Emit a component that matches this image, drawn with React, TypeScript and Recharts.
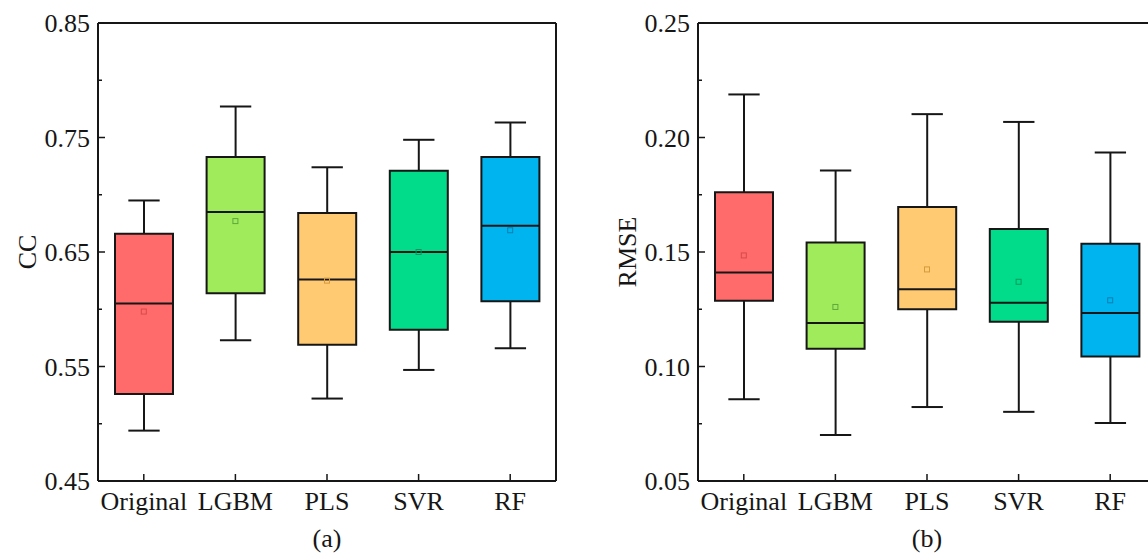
import { ComposedChart, Bar, Scatter, XAxis, YAxis, Cell, ReferenceLine } from 'recharts'

const models = ['Original', 'LGBM', 'PLS', 'SVR', 'RF']
const boxColors = ['#ff6b6b', '#a0eb5b', '#ffca72', '#00dc8a', '#00b4ef']
const meanColors = ['#d94a4a', '#5fa83a', '#d69a3a', '#089a5e', '#0a7fb0']

// CC panel (a)
const ccMin = [0.494, 0.573, 0.522, 0.547, 0.566]
const ccQ1 = [0.526, 0.614, 0.569, 0.582, 0.607]
const ccMedian = [0.605, 0.685, 0.626, 0.65, 0.673]
const ccMean = [0.598, 0.677, 0.625, 0.65, 0.669]
const ccQ3 = [0.666, 0.733, 0.684, 0.721, 0.733]
const ccMax = [0.695, 0.777, 0.724, 0.748, 0.763]
const ccTicks = [0.45, 0.5, 0.55, 0.6, 0.65, 0.7, 0.75, 0.8, 0.85]

// RMSE panel (b)
const rmseMin = [0.0857, 0.0701, 0.0823, 0.0802, 0.0753]
const rmseQ1 = [0.1287, 0.1078, 0.125, 0.1195, 0.1044]
const rmseMedian = [0.141, 0.119, 0.1337, 0.1278, 0.1234]
const rmseMean = [0.1485, 0.126, 0.1424, 0.137, 0.1289]
const rmseQ3 = [0.1761, 0.1542, 0.1696, 0.16, 0.1536]
const rmseMax = [0.2188, 0.1856, 0.2102, 0.2068, 0.1934]
const rmseTicks = [0.05, 0.075, 0.1, 0.125, 0.15, 0.175, 0.2, 0.225, 0.25]

const FONT = "'Liberation Serif', 'Times New Roman', serif"
const FS = 26
const INK = '#161616'

function rows(min: number[], q1: number[], med: number[], mean: number[], q3: number[], max: number[]) {
  return models.map((name, i) => ({
    pos: i + 1, name, min: min[i], q1: q1[i], median: med[i], mean: mean[i], q3: q3[i], max: max[i],
    meanColor: meanColors[i],
  }))
}

function span(p: any) {
  const top = Math.min(p.y, p.y + p.height)
  const bottom = Math.max(p.y, p.y + p.height)
  return { cx: p.x + p.width / 2, top, bottom, cap: p.width * 0.27 }
}

const UpperWhisker = (p: any) => {
  const { cx, top, bottom, cap } = span(p)
  return (
    <g stroke={INK} strokeWidth={2}>
      <line x1={cx} x2={cx} y1={top} y2={bottom} />
      <line x1={cx - cap} x2={cx + cap} y1={top} y2={top} />
    </g>
  )
}

const LowerWhisker = (p: any) => {
  const { cx, top, bottom, cap } = span(p)
  return (
    <g stroke={INK} strokeWidth={2}>
      <line x1={cx} x2={cx} y1={top} y2={bottom} />
      <line x1={cx - cap} x2={cx + cap} y1={bottom} y2={bottom} />
    </g>
  )
}

const MedianLine = (p: any) => <line x1={p.cx - 29} x2={p.cx + 29} y1={p.cy} y2={p.cy} stroke={INK} strokeWidth={2} />

const MeanMark = (p: any) => (
  <rect x={p.cx - 2.5} y={p.cy - 2.5} width={5} height={5} fill="none" stroke={p.payload.meanColor} strokeWidth={1} />
)

function Panel({ data, ticks, title, tag, left }: { data: any[]; ticks: number[]; title: string; tag: string; left: number }) {
  const domain = [ticks[0], ticks[ticks.length - 1]]

  const yTick = (p: any) => {
    const major = p.index % 2 === 0
    return (
      <g>
        <line x1={p.x} x2={p.x + (major ? 7 : 4)} y1={p.y} y2={p.y} stroke={INK} strokeWidth={1.5} />
        {major && (
          <text x={p.x - 8} y={p.y + 9} textAnchor="end" fontSize={FS} fontFamily={FONT} fill={INK}>
            {Number(p.payload.value).toFixed(2)}
          </text>
        )}
      </g>
    )
  }

  const xTick = (p: any) => (
    <g>
      <line x1={p.x} x2={p.x} y1={p.y} y2={p.y - 7} stroke={INK} strokeWidth={1.5} />
      <text x={p.x} y={p.y + 29} textAnchor="middle" fontSize={FS} fontFamily={FONT} fill={INK}>
        {models[p.payload.value - 1]}
      </text>
    </g>
  )

  const yTitle = (p: any) => {
    const vb = p.viewBox
    const cx = 27
    const cy = vb.y + vb.height / 2
    return (
      <text x={cx} y={cy} transform={`rotate(-90, ${cx}, ${cy})`} textAnchor="middle" dominantBaseline="central" fontSize={FS} fontFamily={FONT} fill={INK}>
        {title}
      </text>
    )
  }

  const xTitle = (p: any) => {
    const vb = p.viewBox
    return (
      <text x={vb.x + vb.width / 2} y={vb.y + 66} textAnchor="middle" fontSize={FS} fontFamily={FONT} fill={INK}>
        {tag}
      </text>
    )
  }

  return (
    <div style={{ position: 'absolute', left, top: 0 }}>
      <ComposedChart width={560} height={554} data={data} margin={{ top: 23, right: 4, left: 0, bottom: 0 }}>
        <XAxis xAxisId="x" type="number" dataKey="pos" domain={[0.5, 5.5]} ticks={[1, 2, 3, 4, 5]} interval={0}
          height={73} tickSize={0} tickMargin={0} tickLine={false} tick={xTick}
          axisLine={{ stroke: INK, strokeWidth: 2 }} label={xTitle} allowDataOverflow />
        <XAxis xAxisId="w1" type="number" dataKey="pos" domain={[0.5, 5.5]} orientation="top" height={0} hide />
        <XAxis xAxisId="w2" type="number" dataKey="pos" domain={[0.5, 5.5]} orientation="top" height={0} hide />
        <YAxis type="number" domain={domain} ticks={ticks} interval={0} width={98} tickSize={0} tickMargin={0}
          tickLine={false} tick={yTick} axisLine={{ stroke: INK, strokeWidth: 2 }} label={yTitle} allowDataOverflow />
        <ReferenceLine xAxisId="x" y={domain[1]} stroke={INK} strokeWidth={2} />
        <ReferenceLine xAxisId="x" x={5.5} stroke={INK} strokeWidth={2} />
        <Bar xAxisId="w1" dataKey={(d: any) => [d.q3, d.max]} barSize={58} shape={UpperWhisker} isAnimationActive={false} />
        <Bar xAxisId="w2" dataKey={(d: any) => [d.min, d.q1]} barSize={58} shape={LowerWhisker} isAnimationActive={false} />
        <Bar xAxisId="x" dataKey={(d: any) => [d.q1, d.q3]} barSize={58} stroke={INK} strokeWidth={2} isAnimationActive={false}>
          {data.map((_, i) => <Cell key={i} fill={boxColors[i]} />)}
        </Bar>
        <Scatter xAxisId="x" dataKey="median" shape={MedianLine} isAnimationActive={false} />
        <Scatter xAxisId="x" dataKey="mean" shape={MeanMark} isAnimationActive={false} />
      </ComposedChart>
    </div>
  )
}

export default function App() {
  const cc = rows(ccMin, ccQ1, ccMedian, ccMean, ccQ3, ccMax)
  const rmse = rows(rmseMin, rmseQ1, rmseMedian, rmseMean, rmseQ3, rmseMax)
  return (
    <div style={{ position: 'absolute', left: 0, top: 0, width: 1148, height: 554, overflow: 'hidden', background: '#fff' }}>
      <Panel data={cc} ticks={ccTicks} title="CC" tag="(a)" left={0} />
      <Panel data={rmse} ticks={rmseTicks} title="RMSE" tag="(b)" left={600} />
    </div>
  )
}
